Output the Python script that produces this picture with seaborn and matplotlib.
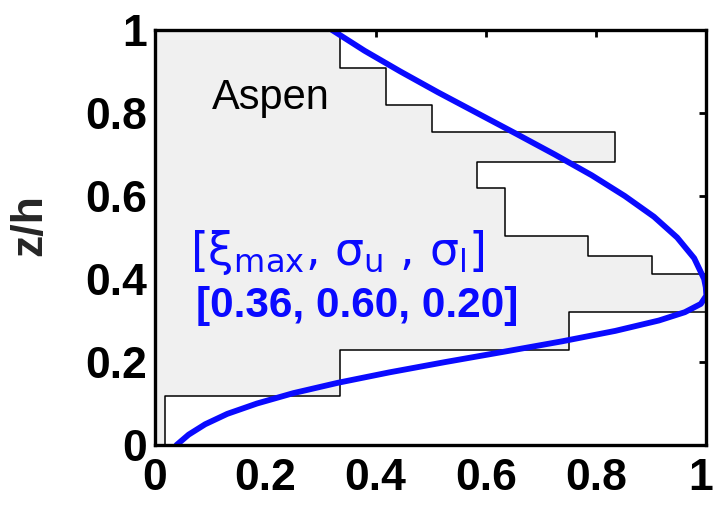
import numpy as np
import pandas as pd
import matplotlib
matplotlib.use("Agg")
import matplotlib.pyplot as plt
import matplotlib.transforms as mtransforms
import seaborn as sns

# measured profile (step histogram), bin edges in z/h from ground to top
bin_edges = [0.0, 0.119, 0.230, 0.320, 0.411, 0.455, 0.503, 0.620, 0.682, 0.754, 0.819, 0.909, 1.0]
lad_values = [0.019, 0.336, 0.751, 1.0, 0.902, 0.785, 0.635, 0.584, 0.834, 0.502, 0.419, 0.336]

# fitted curve
curve_z = [0.0, 0.025, 0.05, 0.075, 0.1, 0.125, 0.15, 0.175, 0.2, 0.225, 0.25, 0.275, 0.3,
           0.32, 0.34, 0.36, 0.38, 0.4, 0.45, 0.5, 0.55, 0.6, 0.65, 0.7, 0.75, 0.8,
           0.85, 0.9, 0.95, 1.0]
curve_x = [0.039, 0.061, 0.091, 0.131, 0.185, 0.251, 0.332, 0.425, 0.527, 0.634, 0.739, 0.835, 0.914,
           0.961, 0.990, 1.0, 0.999, 0.996, 0.978, 0.947, 0.905, 0.852, 0.792, 0.725, 0.655, 0.584,
           0.513, 0.445, 0.380, 0.321]

site_label = "Aspen"
param_names = r"[ξ$_\mathregular{max}$, σ$_\mathregular{u}$ , σ$_\mathregular{l}$]"
param_values = "[0.36, 0.60, 0.20]"
tick_vals = [0, 0.2, 0.4, 0.6, 0.8, 1]
tick_labels = ["0", "0.2", "0.4", "0.6", "0.8", "1"]

sns.set_theme(style="white")
plt.rcParams['font.family'] = ['Liberation Sans', 'DejaVu Sans']

fig = plt.figure(figsize=(7.16, 5.08), dpi=100)
ax = fig.add_axes([0.2165, 0.124, 0.77, 0.817])

centers = [(bin_edges[i] + bin_edges[i + 1]) / 2 for i in range(len(lad_values))]
prof = pd.DataFrame({"z": centers, "lad": lad_values})
sns.histplot(data=prof, y="z", weights="lad", bins=bin_edges, element="step",
             fill=True, facecolor="#f0f0f0", edgecolor="black", alpha=1,
             linewidth=1.1, ax=ax)

curve = pd.DataFrame({"z": curve_z, "x": curve_x})
sns.lineplot(data=curve, x="x", y="z", sort=False, color="#0a0aff", linewidth=4.2,
             solid_capstyle="round", ax=ax)

ax.set_xlim(0, 1)
ax.set_ylim(0, 1)
ax.set_xticks(tick_vals)
ax.set_xticklabels(tick_labels, fontweight="bold")
ax.set_yticks(tick_vals)
ax.set_yticklabels(tick_labels, fontweight="bold")
ax.set_xlabel("")
ax.set_ylabel("z/h", fontsize=32, fontweight="bold")
ax.yaxis.set_label_coords(-0.19, 0.53)
ax.tick_params(direction="in", length=5, width=2, top=True, right=True,
               labelsize=32, colors="black")
ax.tick_params(axis="x", pad=9)
ax.tick_params(axis="y", pad=6)
# keep the last x label inside the figure
last = ax.get_xticklabels()[-1]
last.set_transform(last.get_transform() + mtransforms.ScaledTranslation(-4 / 72, 0, fig.dpi_scale_trans))
for sp in ax.spines.values():
    sp.set_linewidth(2.4)
    sp.set_color("black")

ax.text(0.103, 0.809, site_label, fontsize=30, color="black", va="baseline", ha="left")
ax.text(0.064, 0.433, param_names, fontsize=33, color="#0a0aff", va="baseline", ha="left",
        family=["DejaVu Sans"])
ax.text(0.074, 0.308, param_values, fontsize=30.5, color="#0a0aff", va="baseline", ha="left",
        fontweight="bold")

fig.savefig("out.png", dpi=100)
